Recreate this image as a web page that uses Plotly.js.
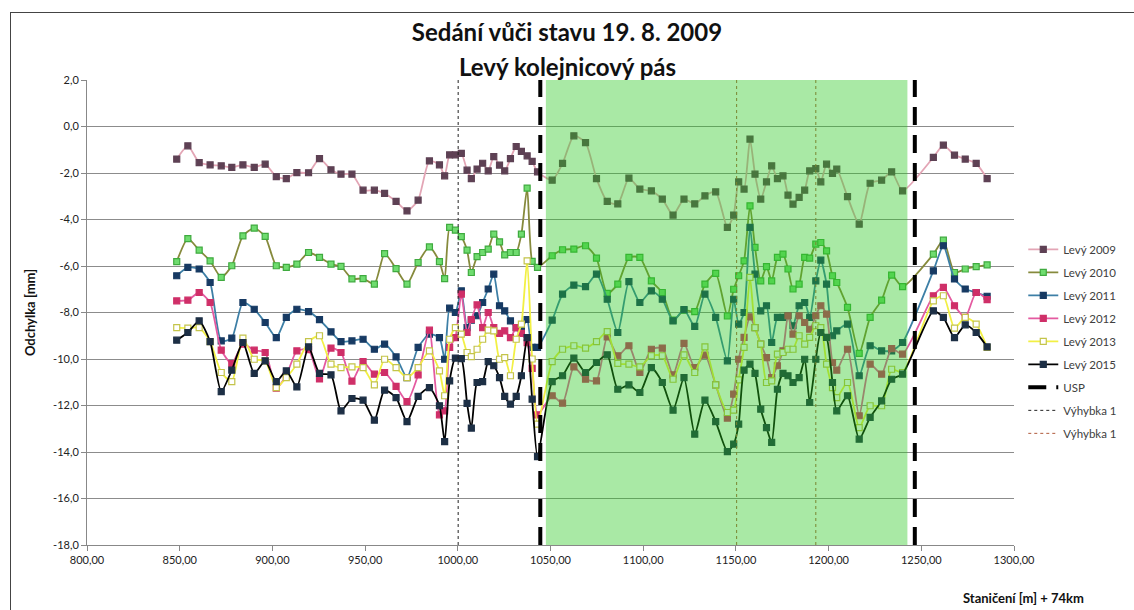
<!DOCTYPE html>
<html>
<head>
<meta charset="utf-8">
<script src="https://cdn.plot.ly/plotly-3.0.1.min.js"></script>
<style>
html,body{margin:0;padding:0;width:1134px;height:610px;overflow:hidden;background:#fff;}
#chart{position:absolute;left:0;top:0;width:1134px;height:610px;}
#frame{position:absolute;left:10px;top:12px;width:1140px;height:640px;border:1px solid #444;pointer-events:none;}
</style>
</head>
<body>
<div id="chart"></div>
<div id="frame"></div>
<script>
// Stations [m]
const stations = [
  848.4, 854.4, 860.5, 866.4, 872.4, 878.1, 884.1, 890.2, 896.1, 902.1, 907.5, 913.2, 919.5, 925.4, 931.6, 937.0, 942.9,
  948.9, 955.0, 960.5, 966.7, 972.6, 978.6, 984.7, 990.1, 992.9, 995.6, 998.7, 1001.9, 1005.0, 1007.3, 1010.4, 1013.4, 1016.4, 1019.4, 1022.5, 1025.3, 1028.4, 1031.5, 1034.3, 1037.4, 1040.1, 1043.0,
  1050.9, 1056.5, 1062.6, 1068.9, 1074.8, 1080.6, 1086.3, 1092.3, 1098.2, 1104.4, 1110.3, 1116.1, 1122.0, 1127.8, 1133.3, 1139.1, 1145.4,
  1148.8, 1151.5, 1154.4, 1157.6, 1160.3, 1163.4, 1166.5, 1169.3, 1172.4, 1175.4, 1178.1, 1180.8, 1184.1, 1187.1, 1189.8, 1193.1, 1195.8, 1198.9, 1202.1, 1204.4, 1210.2, 1216.5, 1222.4, 1228.6, 1234.0, 1239.9,
  1256.5, 1261.9, 1267.9, 1273.7, 1279.6, 1285.5
];
const levy2009 = [
  -1.40, -0.83, -1.55, -1.65, -1.69, -1.76, -1.65, -1.76, -1.62, -2.16, -2.24, -1.98, -1.99, -1.38, -1.86, -2.05, -2.05,
  -2.74, -2.74, -2.88, -3.22, -3.63, -3.17, -1.48, -1.65, -2.12, -1.22, -1.22, -1.16, -1.88, -2.24, -1.83, -1.58, -1.91, -1.30, -1.66, -1.91, -1.38, -0.86, -1.07, -1.26, -1.50, -1.95,
  -2.31, -1.59, -0.40, -0.69, -2.24, -3.22, -3.33, -2.22, -2.69, -2.77, -3.12, -3.81, -3.12, -3.33, -2.98, -2.81, -4.34,
  -3.81, -2.38, -2.69, -0.54, -2.05, -3.12, -2.38, -1.69, -2.24, -2.12, -2.95, -3.34, -3.05, -2.74, -1.91, -1.81, -2.38, -1.62, -2.02, -1.83, -3.02, -4.20, -2.44, -2.31, -1.95, -2.77,
  -1.33, -0.80, -1.23, -1.40, -1.59, -2.24
];
const levy2010 = [
  -5.81, -4.82, -5.32, -5.78, -6.49, -5.99, -4.70, -4.37, -4.73, -5.99, -6.06, -5.92, -5.42, -5.63, -5.92, -6.02, -6.55,
  -6.54, -6.78, -5.47, -6.11, -6.78, -5.85, -5.18, -5.81, -6.54, -4.34, -4.46, -4.74, -5.32, -6.28, -5.60, -5.42, -5.27, -4.63, -4.96, -5.52, -5.42, -5.42, -4.63, -2.65, -5.80, -6.06,
  -5.56, -5.30, -5.27, -5.13, -5.66, -7.18, -6.78, -5.63, -5.63, -6.64, -7.14, -8.33, -7.90, -7.96, -6.78, -6.32, -8.15,
  -7.00, -6.42, -5.78, -3.41, -5.20, -6.64, -6.03, -6.64, -5.63, -5.49, -6.13, -6.99, -6.78, -5.63, -5.66, -5.06, -4.99, -5.35, -6.42, -6.71, -7.78, -9.76, -8.21, -7.47, -6.39, -6.89,
  -5.49, -4.89, -6.28, -6.13, -6.03, -5.95
];
const levy2011 = [
  -6.42, -6.06, -6.13, -6.71, -9.22, -9.10, -7.57, -7.86, -8.43, -9.08, -8.21, -7.86, -7.96, -8.31, -8.83, -9.25, -9.22,
  -9.15, -9.58, -9.36, -9.91, -10.80, -9.50, -8.93, -9.08, -10.01, -7.81, -8.00, -7.07, -8.65, -8.33, -8.14, -7.57, -6.99, -6.35, -7.71, -7.93, -8.36, -8.65, -8.70, -8.30, -9.50, -9.50,
  -8.33, -7.21, -6.82, -6.89, -6.35, -7.43, -8.86, -6.67, -7.57, -7.07, -7.43, -8.36, -7.88, -8.60, -7.21, -8.21, -10.08,
  -7.43, -8.50, -8.00, -4.34, -6.35, -7.93, -7.71, -9.29, -8.21, -8.21, -8.14, -8.57, -7.71, -7.57, -8.21, -6.64, -5.75, -6.78, -9.00, -8.79, -8.50, -10.72, -9.43, -9.65, -9.65, -9.29,
  -6.21, -5.13, -6.56, -6.99, -7.14, -7.30
];
const levy2012 = [
  -7.50, -7.47, -7.14, -7.57, -9.62, -10.20, -9.36, -9.62, -9.72, -11.25, -10.70, -9.65, -9.60, -10.86, -9.53, -9.72, -10.95,
  -10.11, -10.65, -10.58, -11.18, -11.83, -10.68, -8.76, -12.40, -12.23, -9.50, -9.08, -7.21, -8.86, -8.30, -7.67, -8.65, -8.00, -8.65, -8.90, -8.79, -9.08, -8.65, -8.90, -9.30, -10.40, -12.40,
  -11.58, -11.90, -10.34, -10.87, -10.94, -9.05, -9.86, -9.43, -10.58, -9.58, -9.53, -10.68, -9.33, -10.37, -9.83, -11.11, -12.54,
  -11.51, -10.01, -9.07, -8.19, -8.65, -9.36, -9.94, -10.80, -10.29, -9.65, -8.14, -8.93, -8.14, -8.43, -8.72, -8.14, -7.71, -8.07, -10.15, -10.48, -9.58, -12.44, -10.22, -10.65, -9.55, -9.79,
  -7.28, -6.92, -7.71, -8.21, -7.14, -7.45
];
const levy2013 = [
  -8.65, -8.67, -8.65, -9.25, -10.58, -10.97, -9.10, -10.01, -10.08, -11.23, -10.80, -10.22, -9.25, -9.00, -10.22, -10.37, -10.34,
  -10.37, -11.11, -10.01, -10.37, -10.80, -10.37, -9.65, -10.51, -11.58, -9.15, -8.65, -8.93, -9.72, -9.90, -9.58, -9.15, -8.76, -8.79, -10.01, -9.94, -10.72, -9.15, -8.50, -5.78, -10.00, -12.80,
  -10.11, -9.58, -9.43, -9.53, -9.25, -8.82, -10.19, -10.22, -10.34, -9.86, -9.86, -10.87, -9.82, -10.58, -9.48, -11.11, -12.30,
  -12.20, -10.90, -9.50, -6.49, -8.65, -9.36, -11.01, -10.94, -9.79, -9.72, -9.58, -9.58, -9.00, -9.36, -9.07, -8.57, -8.65, -10.22, -11.23, -11.66, -11.01, -12.95, -12.01, -12.01, -10.44, -10.58,
  -7.50, -7.28, -8.67, -8.21, -8.50, -9.50
];
const levy2015 = [
  -9.19, -8.86, -8.36, -9.25, -11.40, -10.48, -9.29, -10.62, -10.08, -10.97, -10.51, -11.20, -9.48, -10.62, -10.68, -12.23, -11.70,
  -11.77, -12.63, -11.34, -11.66, -12.69, -11.61, -11.23, -12.01, -13.55, -10.94, -9.96, -9.98, -11.91, -12.97, -11.01, -10.97, -10.11, -10.29, -10.80, -11.61, -11.94, -11.61, -10.72, -9.08, -11.73, -14.20,
  -10.97, -10.72, -9.96, -10.58, -10.15, -9.82, -11.30, -11.11, -11.44, -10.37, -11.01, -12.20, -10.80, -13.23, -11.77, -12.69, -13.98,
  -13.66, -12.80, -10.48, -10.22, -10.62, -12.16, -12.95, -13.59, -11.30, -10.62, -10.72, -11.01, -10.80, -10.01, -11.87, -10.01, -8.86, -9.07, -11.01, -12.23, -11.58, -13.45, -12.51, -11.80, -10.87, -10.65,
  -7.93, -8.21, -9.08, -8.53, -8.86, -9.48
];
const seriesNames = ["Levý 2009", "Levý 2010", "Levý 2011", "Levý 2012", "Levý 2013", "Levý 2015"];
const uspX = [1044.5, 1246.5];
const vyhybkaBlackX = [1000.2];
const vyhybkaBrownX = [1150.4, 1193.1];
const greenZone = [1047.5, 1242.5];
const yRange = [-18, 2];
const xTickVals = [800, 850, 900, 950, 1000, 1050, 1100, 1150, 1200, 1250, 1300];
const xTickText = ["800,00", "850,00", "900,00", "950,00", "1000,00", "1050,00", "1100,00", "1150,00", "1200,00", "1250,00", "1300,00"];
const yTickVals = [2, 0, -2, -4, -6, -8, -10, -12, -14, -16, -18];
const yTickText = ["2,0", "0,0", "-2,0", "-4,0", "-6,0", "-8,0", "-10,0", "-12,0", "-14,0", "-16,0", "-18,0"];
const titleLine1 = "Sedání vůči stavu 19. 8. 2009";
const titleLine2 = "Levý kolejnicový pás";

const seriesData = [levy2009, levy2010, levy2011, levy2012, levy2013, levy2015];
const styles = [
  {line: "#e3a5b5", mfill: "#5e4154", mline: "#5e4154"},
  {line: "#868a3c", mfill: "#6fdc6f", mline: "#3faa3f"},
  {line: "#3d7fa6", mfill: "#173a63", mline: "#173a63"},
  {line: "#e45aa0", mfill: "#cf2f68", mline: "#cf2f68"},
  {line: "#f2f044", mfill: "#ffffff", mline: "#c4c44a"},
  {line: "#000000", mfill: "#1d2f45", mline: "#1d2f45"}
];

function vlines(xs) {
  const x = [], y = [];
  xs.forEach((v, i) => { if (i) { x.push(null); y.push(null); } x.push(v, v); y.push(yRange[0], yRange[1]); });
  return {x, y};
}

const traces = seriesData.map((ys, i) => ({
  type: "scatter", mode: "lines+markers", name: seriesNames[i],
  x: stations, y: ys, legendgroup: "g" + i,
  line: {color: styles[i].line, width: 1.8, shape: "spline", smoothing: 0.6},
  marker: {symbol: "square", size: 6, color: styles[i].mfill, line: {color: styles[i].mline, width: 1.2}},
  hoverinfo: "x+y"
}));

const usp = vlines(uspX);
traces.push({type: "scatter", mode: "lines", name: "USP", legendgroup: "g6", x: usp.x, y: usp.y,
  line: {color: "#000", width: 4, dash: "18px,10px"}});
const vb = vlines(vyhybkaBlackX);
traces.push({type: "scatter", mode: "lines", name: "Výhybka 1", legendgroup: "g7", x: vb.x, y: vb.y,
  line: {color: "#222", width: 1, dash: "3px,3px"}});
const vr = vlines(vyhybkaBrownX);
traces.push({type: "scatter", mode: "lines", name: "Výhybka 1", legendgroup: "g8", x: vr.x, y: vr.y,
  line: {color: "#b05a3c", width: 1, dash: "3px,3px"}});

const layout = {
  width: 1134, height: 610,
  margin: {l: 87, r: 120, t: 80, b: 65},
  paper_bgcolor: "rgba(0,0,0,0)", plot_bgcolor: "#fff",
  font: {family: "Lato, 'Open Sans', sans-serif", color: "#222", size: 11},
  title: {text: "<b>" + titleLine1 + "</b>",
          font: {family: "Lato, 'Open Sans', sans-serif", size: 24, color: "#111"},
          x: 0.5, xanchor: "center", xref: "container", yref: "container", y: 1 - 33 / 610, yanchor: "middle"},
  xaxis: {range: [800, 1300], tickvals: xTickVals, ticktext: xTickText, showgrid: false,
          zeroline: false, showline: true, linecolor: "#888", ticks: "outside", ticklen: 5, tickcolor: "#888",
          tickfont: {size: 11, color: "#222"}},
  yaxis: {range: yRange, tickvals: yTickVals, ticktext: yTickText, showgrid: true, gridcolor: "#8c8c8c",
          gridwidth: 1, zeroline: false, showline: true, linecolor: "#888", ticks: "outside", ticklen: 5,
          tickcolor: "#888", tickfont: {size: 11, color: "#222"},
          title: {text: "<b>Odchylka [mm]</b>", font: {size: 13, color: "#111"}, standoff: 14}},
  showlegend: true,
  legend: {x: 1.01, xanchor: "left", y: 0.667, yanchor: "top", tracegroupgap: 4,
           font: {size: 11.5, color: "#404040"}, bgcolor: "rgba(0,0,0,0)", itemwidth: 30},
  shapes: [
    {type: "rect", layer: "above", xref: "x", yref: "y", x0: greenZone[0], x1: greenZone[1], y0: yRange[0], y1: yRange[1],
     fillcolor: "rgba(40,200,30,0.40)", line: {width: 0}}
  ],
  annotations: [
    {text: "<b>" + titleLine2 + "</b>", xref: "paper", yref: "paper", x: (567 - 87) / 927, y: (545 - 67) / 465,
     xanchor: "center", yanchor: "middle", showarrow: false,
     font: {family: "Lato, 'Open Sans', sans-serif", size: 24, color: "#111"}},
    {text: "<b>Staničení [m] + 74km</b>", xref: "paper", yref: "paper", x: 1.01, y: (545 - 598) / 465, xanchor: "center", yanchor: "middle",
     showarrow: false, font: {size: 13, color: "#111"}}
  ]
};

Plotly.newPlot("chart", traces, layout, {displayModeBar: false, staticPlot: true});
</script>
</body>
</html>
